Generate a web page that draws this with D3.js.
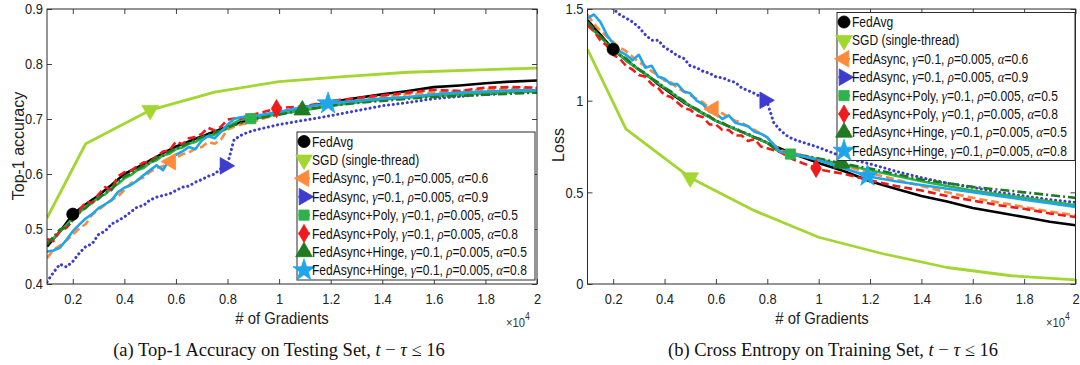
<!DOCTYPE html>
<html><head><meta charset="utf-8">
<script src="https://cdn.jsdelivr.net/npm/d3@7"></script>
<style>body{margin:0;background:#fff;} svg{display:block;}</style>
</head><body>
<svg id="c" width="1080" height="365"></svg>
<script>
// ---------------- DATA (x in units of 10^4 gradients) ----------------
const grad = [0.1,0.125,0.15,0.175,0.2,0.225,0.25,0.275,0.3,0.325,0.35,0.375,0.4,0.425,0.45,0.475,0.5,0.525,0.55,0.575,0.6,0.625,0.65,0.675,0.7,0.725,0.75,0.775,0.8,0.825,0.85,0.875,0.9,1.0,1.1,1.2,1.3,1.4,1.5,1.6,1.7,1.8,1.9,2.0];
const sgdGrad = [0.1,0.25,0.5,0.75,1.0,1.25,1.5,1.75,2.0];

const seriesNames = ["FedAvg","SGD (single-thread)","FedAsync, γ=0.1, ρ=0.005, α=0.6","FedAsync, γ=0.1, ρ=0.005, α=0.9","FedAsync+Poly, γ=0.1, ρ=0.005, α=0.5","FedAsync+Poly, γ=0.1, ρ=0.005, α=0.8","FedAsync+Hinge, γ=0.1, ρ=0.005, α=0.5","FedAsync+Hinge, γ=0.1, ρ=0.005, α=0.8"];

// Top-1 accuracy
const accFedAvg  = [.468,.482,.495,.511,.527,.536,.545,.553,.561,.571,.580,.590,.600,.606,.612,.618,.625,.631,.638,.644,.650,.654,.659,.664,.668,.673,.677,.682,.686,.690,.694,.697,.700,.712,.722,.731,.738,.745,.751,.758,.761,.765,.768,.770];
const accSGD     = [.520,.655,.716,.749,.768,.777,.785,.789,.7925];
const accAsync06 = [.447,.462,.470,.479,.490,.501,.509,.526,.535,.544,.553,.559,.571,.583,.589,.594,.604,.611,.614,.621,.629,.636,.639,.646,.649,.658,.655,.663,.681,.686,.690,.692,.695,.710,.719,.727,.734,.740,.745,.748,.751,.753,.755,.756];
const accAsync09 = [.404,.421,.436,.431,.441,.456,.468,.473,.490,.496,.509,.515,.522,.531,.540,.543,.553,.558,.561,.564,.570,.576,.578,.585,.590,.596,.600,.610,.618,.662,.670,.675,.679,.690,.698,.706,.715,.724,.730,.737,.741,.745,.748,.750];
const accPoly05  = [.476,.483,.495,.507,.520,.529,.541,.547,.558,.563,.574,.582,.592,.598,.607,.611,.621,.625,.634,.637,.645,.648,.655,.658,.665,.668,.672,.677,.683,.693,.699,.700,.701,.709,.716,.724,.730,.735,.739,.742,.744,.747,.749,.750];
const accPoly08  = [.482,.478,.497,.502,.516,.533,.549,.548,.563,.576,.571,.596,.603,.606,.614,.621,.622,.632,.641,.643,.659,.654,.665,.667,.673,.684,.679,.686,.699,.701,.700,.706,.708,.720,.723,.733,.738,.743,.748,.753,.751,.757,.758,.757];
const accHinge05 = [.472,.486,.499,.503,.516,.531,.538,.549,.555,.566,.571,.586,.595,.601,.608,.615,.620,.629,.633,.641,.646,.651,.656,.662,.667,.671,.675,.679,.684,.689,.692,.697,.700,.708,.717,.724,.729,.733,.737,.740,.742,.744,.746,.748];
const accHinge08 = [.459,.461,.466,.480,.496,.508,.519,.527,.538,.545,.552,.567,.575,.580,.588,.598,.607,.616,.607,.627,.635,.641,.649,.645,.661,.669,.665,.677,.690,.700,.703,.704,.705,.713,.722,.729,.733,.737,.740,.745,.748,.750,.752,.752];

// Cross-entropy loss
const lossFedAvg  = [1.44,1.40,1.36,1.32,1.28,1.25,1.22,1.195,1.17,1.145,1.12,1.09,1.065,1.04,1.015,.99,.97,.95,.93,.91,.89,.875,.86,.845,.83,.815,.80,.785,.77,.755,.74,.725,.71,.66,.615,.56,.52,.48,.45,.415,.39,.365,.34,.32];
const lossSGD     = [1.28,.845,.58,.40,.255,.165,.09,.045,.022];
const lossAsync06 = [1.47,1.42,1.38,1.35,1.32,1.29,1.27,1.24,1.21,1.19,1.16,1.14,1.11,1.10,1.07,1.05,1.03,1.01,.99,.96,.95,.93,.91,.89,.88,.86,.84,.82,.80,.76,.73,.72,.715,.68,.645,.605,.57,.535,.50,.47,.445,.42,.395,.375];
const lossAsync09 = [1.62,1.60,1.57,1.54,1.50,1.47,1.45,1.43,1.40,1.36,1.33,1.33,1.29,1.27,1.245,1.23,1.19,1.18,1.16,1.15,1.13,1.125,1.11,1.10,1.07,1.055,1.04,1.02,.99,.88,.84,.81,.79,.745,.69,.655,.615,.58,.55,.527,.50,.48,.46,.445];
const lossPoly05  = [1.42,1.38,1.35,1.31,1.28,1.25,1.22,1.195,1.17,1.145,1.12,1.095,1.07,1.045,1.02,.995,.97,.95,.93,.91,.89,.875,.86,.845,.83,.815,.80,.785,.77,.74,.72,.715,.705,.68,.65,.62,.59,.56,.535,.51,.49,.47,.45,.43];
const lossPoly08  = [1.41,1.38,1.33,1.30,1.25,1.23,1.19,1.17,1.14,1.13,1.09,1.07,1.03,1.02,.99,.96,.95,.92,.91,.87,.87,.84,.84,.81,.81,.78,.79,.75,.74,.73,.72,.70,.68,.625,.60,.565,.535,.51,.48,.455,.43,.41,.385,.365];
const lossHinge05 = [1.43,1.39,1.35,1.32,1.28,1.25,1.23,1.20,1.17,1.15,1.12,1.10,1.07,1.05,1.02,1.00,.97,.955,.93,.915,.89,.88,.86,.85,.83,.82,.80,.79,.77,.745,.725,.715,.71,.685,.655,.63,.60,.57,.55,.53,.515,.50,.485,.47];
const lossHinge08 = [1.45,1.47,1.43,1.36,1.31,1.27,1.25,1.22,1.25,1.18,1.19,1.13,1.12,1.09,1.09,1.05,1.04,1.00,.98,.94,.93,.90,.92,.88,.87,.86,.83,.82,.80,.76,.72,.715,.71,.675,.63,.585,.56,.54,.52,.50,.48,.46,.44,.42];

// marker positions (x, 10^4 gradients)
const accMarkerX  = [0.2,0.5,0.58,0.79,0.89,0.99,1.09,1.19];
const lossMarkerX = [0.2,0.5,0.59,0.79,0.89,0.99,1.09,1.19];

const xTicks = [0.2,0.4,0.6,0.8,1.0,1.2,1.4,1.6,1.8,2.0];
const accTicks = [0.4,0.5,0.6,0.7,0.8,0.9];
const lossTicks = [0,0.5,1,1.5];

// ---------------- STYLE ----------------
const SANS = "'Liberation Sans', Arial, Helvetica, sans-serif";
const SERIF = "'Liberation Serif', 'Times New Roman', serif";
const SX = 0.86;
const AX = '#2b2b2b';
const styles = [
  {color:'#000000', width:2.6, dash:null, marker:'circle'},
  {color:'#a3d631', width:2.8, dash:null, marker:'triDown'},
  {color:'#ff8a3c', width:2.6, dash:'8,4', marker:'triLeft'},
  {color:'#3c3cd0', width:3, dash:'0.1,4.6', marker:'triRight', cap:'round'},
  {color:'#2db34b', width:2.6, dash:null, marker:'square'},
  {color:'#f01a1a', width:2.6, dash:'8,4', marker:'diamond'},
  {color:'#1f7a22', width:2.6, dash:'9,3,2,3', marker:'triUp'},
  {color:'#1fa6ea', width:2.6, dash:null, marker:'star'}
];

const svg = d3.select('#c');
const defs = svg.append('defs');

function interp(xs, ys, xv){
  const i = Math.max(1, d3.bisectLeft(xs, xv));
  const t = (xv - xs[i-1])/(xs[i]-xs[i-1]);
  return ys[i-1] + t*(ys[i]-ys[i-1]);
}

function markerPath(type){
  const sym = {circle:[d3.symbolCircle,115], square:[d3.symbolSquare,105], diamond:[d3.symbolDiamond,95],
    star:[d3.symbolStar,150], triUp:[d3.symbolTriangle,120], triDown:[d3.symbolTriangle,120],
    triLeft:[d3.symbolTriangle,120], triRight:[d3.symbolTriangle,120]}[type];
  return d3.symbol().type(sym[0]).size(sym[1])();
}
function markerRot(type){ return {triDown:180, triLeft:-90, triRight:90}[type] || 0; }

function drawMarker(g, type, color, cx, cy){
  g.append('path').attr('d', markerPath(type))
    .attr('transform', `translate(${cx},${cy}) rotate(${markerRot(type)})`)
    .attr('fill', color).attr('stroke', color).attr('stroke-width', 0.8);
}

function richText(sel, label, greekSize, re){
  label.split(re).forEach(p => {
    if (!p) return;
    const t = sel.append('tspan').text(p);
    if (new RegExp('^(' + re.source.slice(1, -1) + ')$').test(p))
      t.attr('font-family', SERIF).attr('font-style','italic').attr('font-size', greekSize);
  });
}

function panel(cfg){
  const x = d3.scaleLinear().domain([0.1, 2]).range([cfg.x0, cfg.x1]);
  const y = d3.scaleLinear().domain(cfg.yDomain).range([cfg.yb, cfg.yt]);
  const g = svg.append('g');

  defs.append('clipPath').attr('id', 'clip'+cfg.id).append('rect')
    .attr('x', cfg.x0).attr('y', cfg.yt).attr('width', cfg.x1-cfg.x0).attr('height', cfg.yb-cfg.yt);

  // lines
  const line = d3.line().x(d => x(d[0])).y(d => y(d[1]));
  const lg = g.append('g').attr('clip-path', `url(#clip${cfg.id})`);
  cfg.series.forEach((vals, i) => {
    const xs = (i === 1) ? sgdGrad : grad;
    const st = styles[i];
    lg.append('path').datum(xs.map((xv, k) => [xv, vals[k]]))
      .attr('d', line).attr('fill','none').attr('stroke', st.color)
      .attr('stroke-width', st.width).attr('stroke-dasharray', st.dash)
      .attr('stroke-linecap', st.cap || 'butt').attr('stroke-linejoin','round');
  });
  cfg.series.forEach((vals, i) => {
    const xs = (i === 1) ? sgdGrad : grad;
    const mx = cfg.markerX[i];
    const my = interp(xs, vals, mx);
    if (my <= cfg.yDomain[1]) drawMarker(lg, styles[i].marker, styles[i].color, x(mx), y(my));
  });

  // axes (inside ticks, MATLAB style)
  const fmtX = d => String(+d.toFixed(1));
  const ax = g.append('g').attr('transform', `translate(0,${cfg.yb})`)
    .call(d3.axisBottom(x).tickValues(xTicks).tickSize(-5).tickSizeOuter(0).tickPadding(9).tickFormat(fmtX));
  ax.selectAll('text').attr('transform', `scale(${SX},1)`);
  g.append('g').attr('transform', `translate(0,${cfg.yt})`)
    .call(d3.axisTop(x).tickValues(xTicks).tickSize(-5).tickSizeOuter(0).tickFormat(''));
  const ay = g.append('g').attr('transform', `translate(${cfg.x0},0)`)
    .call(d3.axisLeft(y).tickValues(cfg.yTicks).tickSize(-5).tickSizeOuter(0).tickFormat(cfg.yFmt));
  ay.selectAll('text').attr('x', -4/SX).attr('transform', `scale(${SX},1)`);
  g.append('g').attr('transform', `translate(${cfg.x1},0)`)
    .call(d3.axisRight(y).tickValues(cfg.yTicks).tickSize(-5).tickSizeOuter(0).tickFormat(''));
  g.selectAll('.domain').remove();
  g.selectAll('.tick line').attr('stroke', AX).attr('stroke-width', 0.9);
  g.selectAll('.tick text').attr('fill', '#222').attr('font-size', 15).attr('font-family', SANS);
  g.append('rect').attr('x', cfg.x0).attr('y', cfg.yt).attr('width', cfg.x1-cfg.x0).attr('height', cfg.yb-cfg.yt)
    .attr('fill','none').attr('stroke', AX).attr('stroke-width', 1);

  // labels
  g.append('text').attr('transform', `translate(${cfg.xlab[0]},${cfg.xlab[1]}) scale(0.93,1)`)
    .attr('text-anchor','middle').attr('font-family', SANS).attr('font-size', 16).attr('fill','#222')
    .text('# of Gradients');
  const e = g.append('text').attr('transform', `translate(${cfg.x10[0]},${cfg.x10[1]}) scale(${SX},1)`)
    .attr('font-family', SANS).attr('font-size', 13).attr('fill','#333');
  e.append('tspan').text('×10');
  e.append('tspan').attr('dy', -7).attr('font-size', 10).text('4');
  g.append('text').attr('transform', `translate(${cfg.ylab[0]},${cfg.ylab[1]}) rotate(-90)`)
    .attr('text-anchor','middle').attr('font-family', SANS).attr('font-size', 16).attr('fill','#222')
    .text(cfg.ylabel);

  // legend
  const L = g.append('g').attr('transform', `translate(${cfg.leg[0]},${cfg.leg[1]})`);
  L.append('rect').attr('width', 238).attr('height', 148).attr('fill','#fff').attr('stroke', AX).attr('stroke-width', 1);
  seriesNames.forEach((name, i) => {
    const cy = 9.5 + i*18.4;
    const st = styles[i];
    L.append('line').attr('x1', 1.5).attr('x2', 13).attr('y1', cy).attr('y2', cy)
      .attr('stroke', st.color).attr('stroke-width', 2.2);
    drawMarker(L, st.marker, st.color, 7, cy);
    const t = L.append('text').attr('transform', `translate(15,${cy+5}) scale(0.85,1)`)
      .attr('font-family', SANS).attr('font-size', 14.2).attr('fill', '#111');
    richText(t, name, 15, /([γρα])/);
  });

  // caption
  const c = g.append('text').attr('x', cfg.cap[0]).attr('y', cfg.cap[1]).attr('text-anchor','middle')
    .attr('font-family', SERIF).attr('font-size', 18.5).attr('fill','#111');
  richText(c, cfg.caption, 18.5, /(\bt\b|τ)/);
}

panel({id:'a', x0:47, x1:537, yt:9, yb:284, yDomain:[0.4,0.9], yTicks:accTicks, yFmt:d3.format('.1f'),
  series:[accFedAvg, accSGD, accAsync06, accAsync09, accPoly05, accPoly08, accHinge05, accHinge08],
  markerX: accMarkerX, leg:[297,132], xlab:[282,324], x10:[506,327], ylab:[24,146], ylabel:'Top-1 accuracy',
  cap:[279,356], caption:'(a) Top-1 Accuracy on Testing Set, t − τ ≤ 16'});

panel({id:'b', x0:587.5, x1:1075.5, yt:9, yb:284, yDomain:[0,1.5], yTicks:lossTicks, yFmt:d => String(d),
  series:[lossFedAvg, lossSGD, lossAsync06, lossAsync09, lossPoly05, lossPoly08, lossHinge05, lossHinge08],
  markerX: lossMarkerX, leg:[837,12.5], xlab:[822,324], x10:[1046,327], ylab:[564,145], ylabel:'Loss',
  cap:[833,356], caption:'(b) Cross Entropy on Training Set, t − τ ≤ 16'});
</script>
</body></html>
